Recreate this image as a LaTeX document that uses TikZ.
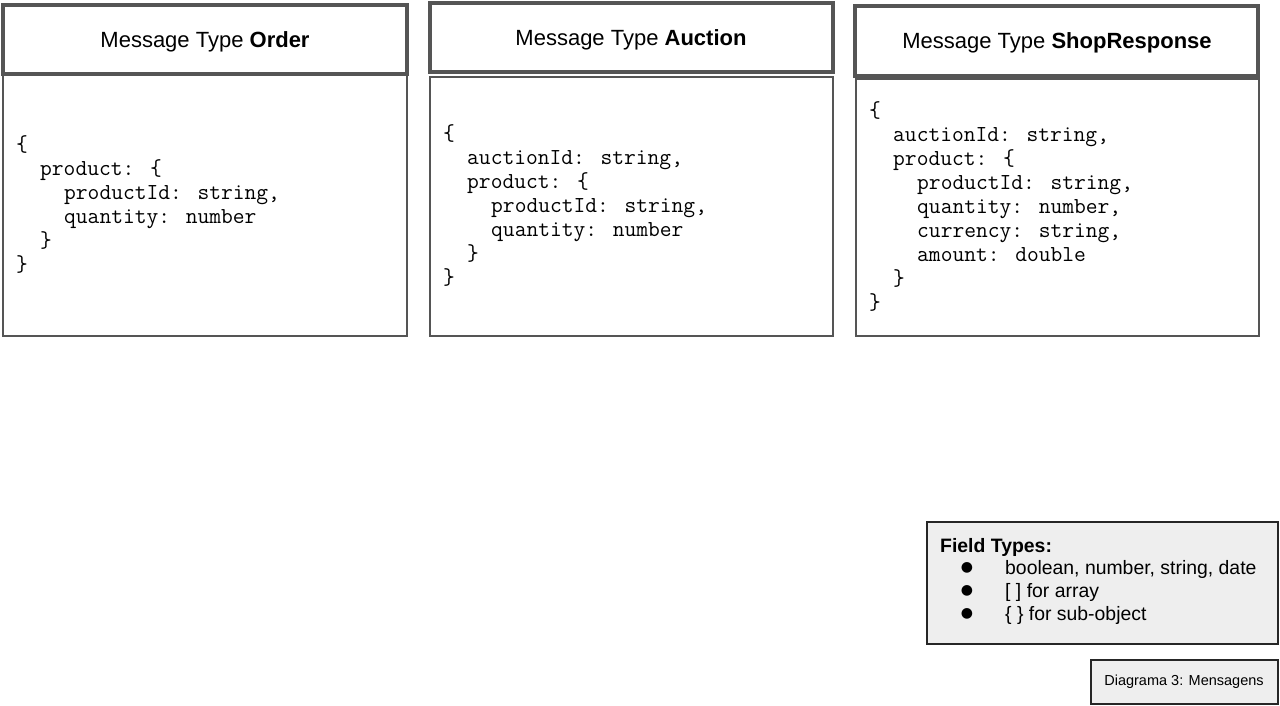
\documentclass[tikz,border=0pt]{standalone}
\usepackage{fontspec}
\setmainfont{Liberation Sans}
\newfontfamily\symfont{DejaVu Sans}
\definecolor{boxgray}{HTML}{555555}
\definecolor{legfill}{HTML}{EEEEEE}
\begin{document}
\begin{tikzpicture}[x=1pt,y=-1pt,
  hdr/.style={draw=boxgray,line width=4pt,fill=white},
  bodybox/.style={draw=boxgray,line width=2pt,fill=white},
  title/.style={anchor=base,inner sep=0,font=\fontsize{22}{26}\selectfont},
  code/.style={anchor=base west,inner sep=0,font=\ttfamily\fontsize{22.86}{24}\selectfont},
  leg/.style={anchor=base west,inner sep=0,font=\fontsize{19.4}{23}\selectfont},
  bul/.style={anchor=center,inner sep=0,font=\symfont\fontsize{14}{16}\selectfont}]
\useasboundingbox (0,0) rectangle (1280,705);
% Order
\draw[bodybox] (3,75) rectangle (407,336);
\draw[hdr] (3,5) rectangle (407,74);
\node[title] (t1) at (205,47.5) {Message Type \textbf{Order}};
\node[code] (o1) at (16,151) {\{};
\node[code] (o2) at (40,175) {product: \{};
\node[code] (o3) at (64,199) {productId: string,};
\node[code] (o4) at (64,223) {quantity: number};
\node[code] (o5) at (40,247) {\}};
\node[code] (o6) at (16,271) {\}};
% Auction
\draw[bodybox] (430,77) rectangle (833,336);
\draw[hdr] (430,3) rectangle (833,72);
\node[title] (t2) at (631,45.5) {Message Type \textbf{Auction}};
\node[code] (a1) at (443,140) {\{};
\node[code] (a2) at (467,164) {auctionId: string,};
\node[code] (a3) at (467,188) {product: \{};
\node[code] (a4) at (491,212) {productId: string,};
\node[code] (a5) at (491,236) {quantity: number};
\node[code] (a6) at (467,260) {\}};
\node[code] (a7) at (443,284) {\}};
% ShopResponse
\draw[bodybox] (856,79) rectangle (1259,336);
\draw[hdr] (855,6) rectangle (1258,76);
\node[title] (t3) at (1057,48.5) {Message Type \textbf{ShopResponse}};
\node[code] (s1) at (869,117) {\{};
\node[code] (s2) at (893,141) {auctionId: string,};
\node[code] (s3) at (893,165) {product: \{};
\node[code] (s4) at (917,189) {productId: string,};
\node[code] (s5) at (917,213) {quantity: number,};
\node[code] (s6) at (917,237) {currency: string,};
\node[code] (s7) at (917,261) {amount: double};
\node[code] (s8) at (893,285) {\}};
\node[code] (s9) at (869,309) {\}};
% Legend
\draw[draw=black!85,line width=2pt,fill=legfill] (927,522) rectangle (1278,644);
\node[leg] (lh) at (940,552) {\textbf{Field Types:}};
\node[bul] (b1) at (967,568) {●};
\node[bul] (b2) at (967,591) {●};
\node[bul] (b3) at (967,614) {●};
\node[leg] (l1) at (1005,574) {boolean, number, string, date};
\node[leg] (l2) at (1005,597) {[ ] for array};
\node[leg] (l3) at (1005,620) {\{ \} for sub-object};
% Caption
\draw[draw=black!85,line width=1.5pt,fill=legfill] (1091,660) rectangle (1278,704);
\node[anchor=center,inner sep=0,font=\fontsize{14.5}{17}\selectfont] (cap) at (1184,682) {Diagrama 3: Mensagens};
\end{tikzpicture}
\end{document}
